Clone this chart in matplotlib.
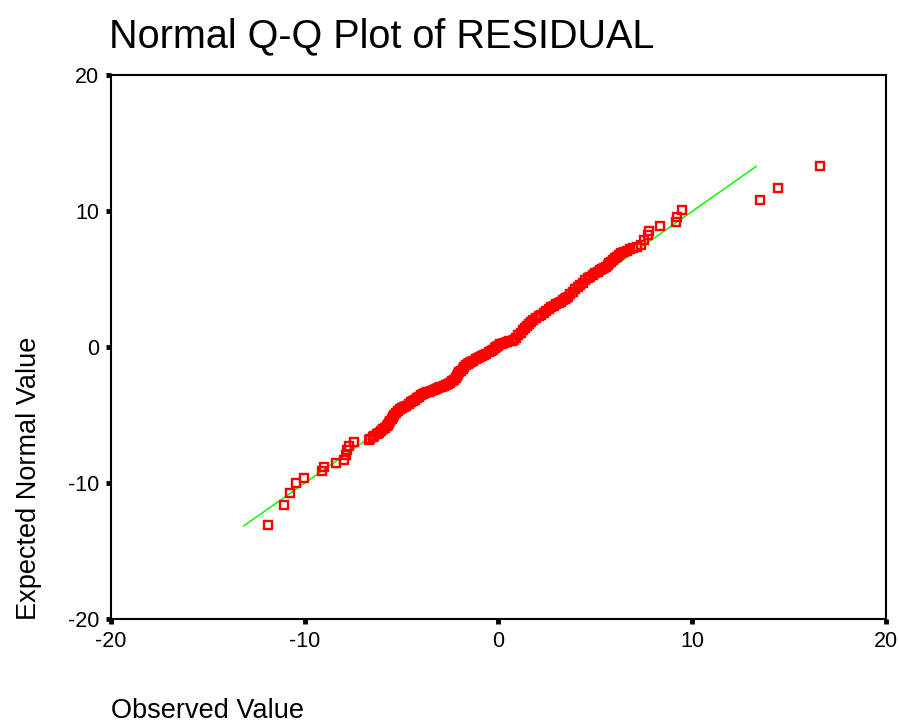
import numpy as np
import matplotlib
matplotlib.use("Agg")
import matplotlib.pyplot as plt

plt.rcParams['font.family'] = ['Liberation Sans', 'DejaVu Sans']

# Observed residuals and their expected normal values (read off the plot,
# the dense middle band traced along its centre)
observed = [
    -11.88, -11.08, -10.76, -10.43, -10.02, -9.12, -8.99, -8.38, -7.96, -7.87,
    -7.80, -7.70, -7.44,
    -6.70, -6.62, -6.50, -6.40, -6.28, -6.17, -6.06, -5.95, -5.85, -5.78,
    -5.72, -5.65, -5.58, -5.52, -5.46, -5.38, -5.30, -5.20, -5.08, -4.97,
    -4.86, -4.75, -4.64, -4.53, -4.42, -4.30, -4.20, -4.10, -4.00, -3.88,
    -3.78, -3.68, -3.57, -3.46, -3.35, -3.24, -3.13, -3.02, -2.92, -2.81,
    -2.71, -2.60, -2.50, -2.39, -2.28, -2.21, -2.14, -2.08, -2.02, -1.94,
    -1.85, -1.76, -1.67, -1.58, -1.50, -1.41, -1.30, -1.18, -1.07, -0.95,
    -0.84, -0.73, -0.62, -0.50, -0.40, -0.30, -0.20, -0.12, -0.02, 0.10,
    0.20, 0.30, 0.42, 0.55, 0.68, 0.82, 0.92, 1.03, 1.14, 1.25,
    1.35, 1.46, 1.57, 1.68, 1.80, 1.94, 2.07, 2.20, 2.33, 2.46,
    2.59, 2.72, 2.85, 2.98, 3.10, 3.23, 3.32, 3.41, 3.50, 3.58,
    3.70, 3.83, 3.96, 4.09, 4.22, 4.35, 4.48, 4.61, 4.74, 4.87,
    5.00, 5.13, 5.23, 5.34, 5.44, 5.55, 5.64, 5.72, 5.81, 5.90,
    6.00, 6.11, 6.22, 6.33, 6.48, 6.63, 6.78, 6.93, 7.15, 7.36,
    7.53, 7.71, 7.79, 8.36, 9.17, 9.22, 9.46, 13.52, 14.45, 16.60,
]
expected = [
    -13.10, -11.60, -10.75, -10.00, -9.60, -9.10, -8.85, -8.55, -8.30, -7.90,
    -7.55, -7.30, -6.95,
    -6.80, -6.72, -6.60, -6.52, -6.42, -6.32, -6.20, -6.05, -5.92, -5.82,
    -5.72, -5.55, -5.40, -5.27, -5.15, -5.00, -4.85, -4.70, -4.58, -4.48,
    -4.40, -4.30, -4.18, -4.06, -3.95, -3.85, -3.73, -3.63, -3.55, -3.48,
    -3.40, -3.33, -3.27, -3.20, -3.14, -3.08, -3.02, -2.96, -2.90, -2.85,
    -2.80, -2.70, -2.60, -2.50, -2.41, -2.25, -2.10, -1.97, -1.85, -1.72,
    -1.57, -1.43, -1.30, -1.22, -1.15, -1.07, -0.98, -0.90, -0.82, -0.74,
    -0.65, -0.57, -0.48, -0.38, -0.28, -0.18, -0.07, 0.04, 0.12, 0.20,
    0.27, 0.33, 0.38, 0.43, 0.48, 0.53, 0.70, 0.88, 1.08, 1.27,
    1.42, 1.58, 1.73, 1.88, 2.01, 2.14, 2.27, 2.40, 2.54, 2.68,
    2.82, 2.95, 3.05, 3.15, 3.25, 3.35, 3.45, 3.54, 3.63, 3.72,
    3.90, 4.08, 4.27, 4.45, 4.60, 4.76, 4.92, 5.07, 5.19, 5.31,
    5.44, 5.56, 5.65, 5.74, 5.83, 5.92, 6.05, 6.17, 6.30, 6.42,
    6.54, 6.67, 6.79, 6.91, 7.00, 7.10, 7.19, 7.28, 7.40, 7.52,
    7.89, 8.26, 8.57, 8.92, 9.19, 9.60, 10.10, 10.80, 11.68, 13.31,
]

# reference line (y = x) over the span of expected values
ref_line = [-13.15, 13.3]
ticks = [-20, -10, 0, 10, 20]

fig = plt.figure(figsize=(8.99, 7.24), dpi=100)
ax = fig.add_axes([111 / 899, 1 - 619 / 724, 775 / 899, 543.6 / 724])

ax.plot(ref_line, ref_line, color='#00ff00', lw=1.1, zorder=2)
ax.plot(observed, expected, ls='none', marker='s', ms=5.9, mew=1.7,
        mfc='none', mec='#ff0000', zorder=3)

ax.set_xlim(-20, 20)
ax.set_ylim(-20, 20)
ax.set_xticks(ticks)
ax.set_yticks(ticks)
ax.set_xticklabels([str(t) for t in ticks])
ax.set_yticklabels([str(t) for t in ticks])
ax.tick_params(direction='out', length=3.5, width=3.5, labelsize=15.5,
               color='black', pad=5)

for sp in ax.spines.values():
    sp.set_linewidth(1.5)
    sp.set_color('black')

fig.text(109 / 899, 1 - 47 / 724, 'Normal Q-Q Plot of RESIDUAL',
         fontsize=28.5, va='baseline', ha='left')
fig.text(29 / 899, 1 - 620 / 724, 'Expected Normal Value', rotation=90,
         fontsize=19.5, va='bottom', ha='center')
fig.text(111 / 899, 1 - 711 / 724, 'Observed Value',
         fontsize=19.5, va='center', ha='left')

fig.savefig('out.png', dpi=100)
